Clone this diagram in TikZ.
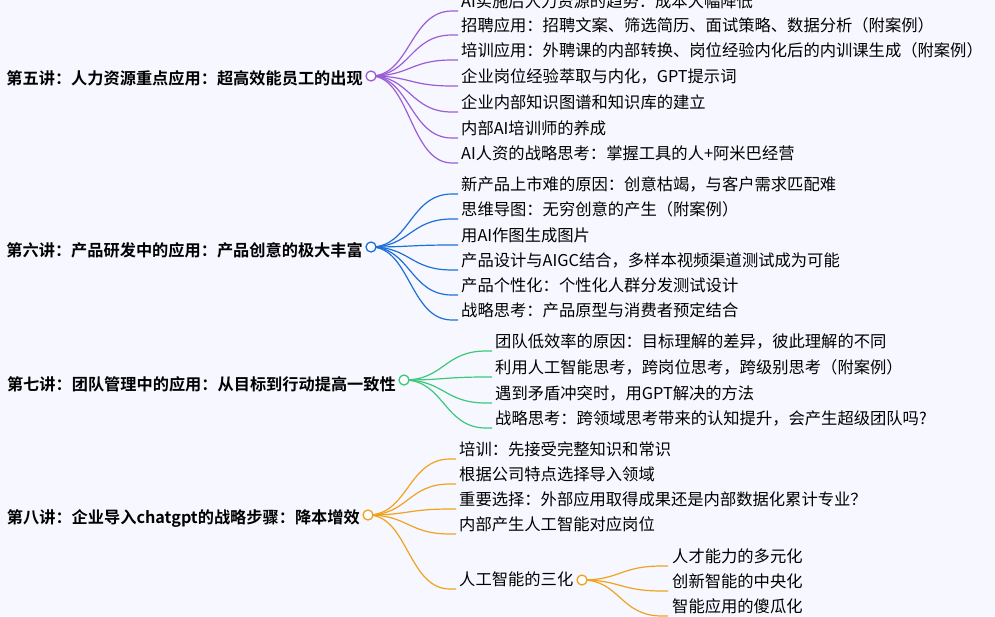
\documentclass[tikz,border=0pt]{standalone}
\usepackage{fontspec}
\setmainfont{Noto Sans CJK SC}[BoldFont={Noto Sans CJK SC Bold}]
\begin{document}
\begin{tikzpicture}[x=1pt,y=-1pt,
  leaf/.style={anchor=west,inner sep=1pt,font=\fontsize{16.3}{17}\selectfont},
  root/.style={anchor=east,inner sep=1pt,font=\fontsize{16.2}{17}\selectfont\bfseries},
  hub/.style={circle,draw=#1,fill=white,line width=1.3pt,minimum size=10pt,inner sep=0pt},
  br/.style={draw=#1,line width=1.2pt}]
\definecolor{cP}{HTML}{9B5DD6}
\definecolor{cB}{HTML}{1F6FD8}
\definecolor{cG}{HTML}{3CC878}
\definecolor{cO}{HTML}{F0A31E}
\fill[white!97!blue] (0,0) rectangle (995,616);
\useasboundingbox (0,0) rectangle (995,616);
% ---- 5
\node[root] (r5) at (364,78) {第五讲：人力资源重点应用：超高效能员工的出现};
\coordinate (h5) at (371,76);
\foreach \i/\y/\t in {1/1/AI实施后人力资源的趋势：成本大幅降低,2/25/招聘应用：招聘文案、筛选简历、面试策略、数据分析（附案例）,3/50/培训应用：外聘课的内部转换、岗位经验内化后的内训课生成（附案例）,4/76/企业岗位经验萃取与内化，GPT提示词,5/102/企业内部知识图谱和知识库的建立,6/128/内部AI培训师的养成,7/153/AI人资的战略思考：掌握工具的人+阿米巴经营}{
  \node[leaf] (a\i) at (460,\y) {\t};
  \draw[br=cP] (h5) .. controls (410,76) and (410,\y+10) .. (452,\y+10) -- (458,\y+10);
}
\node[hub=cP] at (h5) {};
% ---- 6
\node[root] (r6) at (364,250) {第六讲：产品研发中的应用：产品创意的极大丰富};
\coordinate (h6) at (371,247);
\foreach \i/\y/\t in {1/184/新产品上市难的原因：创意枯竭，与客户需求匹配难,2/209/思维导图：无穷创意的产生（附案例）,3/235/用AI作图生成图片,4/260/产品设计与AIGC结合，多样本视频渠道测试成为可能,5/285/产品个性化：个性化人群分发测试设计,6/310/战略思考：产品原型与消费者预定结合}{
  \node[leaf] (b\i) at (460,\y) {\t};
  \draw[br=cB] (h6) .. controls (410,247) and (410,\y+10) .. (452,\y+10) -- (458,\y+10);
}
\node[hub=cB] at (h6) {};
% ---- 7
\node[root] (r7) at (397,384) {第七讲：团队管理中的应用：从目标到行动提高一致性};
\coordinate (h7) at (404,380);
\foreach \i/\y/\t in {1/341/团队低效率的原因：目标理解的差异，彼此理解的不同,2/367/利用人工智能思考，跨岗位思考，跨级别思考（附案例）,3/393/遇到矛盾冲突时，用GPT解决的方法,4/418/战略思考：跨领域思考带来的认知提升，会产生超级团队吗?}{
  \node[leaf] (c\i) at (494,\y) {\t};
  \draw[br=cG] (h7) .. controls (444,380) and (444,\y+10) .. (486,\y+10) -- (492,\y+10);
}
\node[hub=cG] at (h7) {};
% ---- 8
\node[root] (r8) at (361,519) {第八讲：企业导入chatgpt的战略步骤：降本增效};
\coordinate (h8) at (368,515);
\foreach \i/\y/\t in {1/449/培训：先接受完整知识和常识,2/474/根据公司特点选择导入领域,3/499/重要选择：外部应用取得成果还是内部数据化累计专业？,4/524/内部产生人工智能对应岗位,5/579/人工智能的三化}{
  \node[leaf] (d\i) at (458,\y) {\t};
  \draw[br=cO] (h8) .. controls (408,515) and (408,\y+10) .. (450,\y+10) -- (456,\y+10);
}
\coordinate (h9) at (582,580);
\foreach \i/\y/\t in {1/556/人才能力的多元化,2/581/创新智能的中央化,3/606/智能应用的傻瓜化}{
  \node[leaf] (e\i) at (671,\y) {\t};
  \draw[br=cO] (h9) .. controls (620,580) and (620,\y+10) .. (662,\y+10) -- (668,\y+10);
}
\node[hub=cO] at (h8) {};
\node[hub=cO] at (h9) {};
\end{tikzpicture}
\end{document}
